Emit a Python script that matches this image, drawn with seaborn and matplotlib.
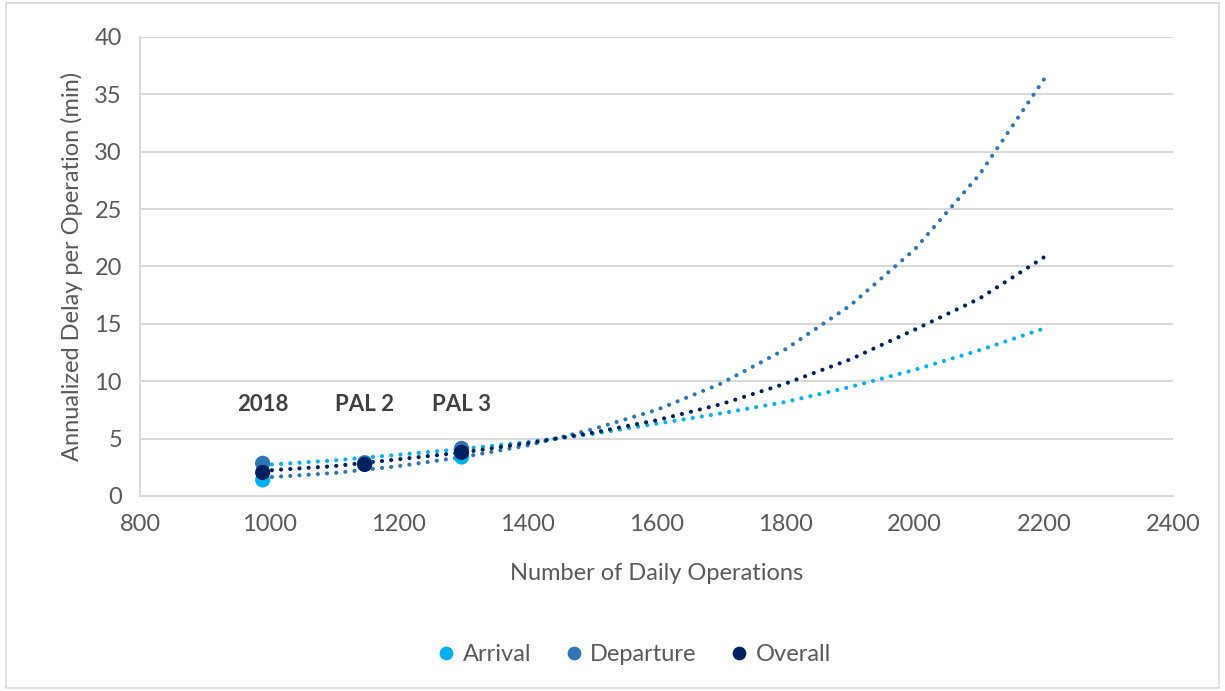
import numpy as np
import pandas as pd
import seaborn as sns
import matplotlib.pyplot as plt
from matplotlib.patches import Rectangle

# scenario points
scenarios = ["2018", "PAL 2", "PAL 3"]
ops = [990, 1148, 1298]
arrival_pts = [1.4, 2.8, 3.4]
departure_pts = [2.85, 2.9, 4.15]
overall_pts = [2.05, 2.75, 3.8]

# trend lines
trend_x = [990, 1100, 1200, 1300, 1400, 1500, 1600, 1700, 1800, 1900, 2000, 2100, 2200]
arrival_trend = [2.7, 3.1, 3.6, 4.1, 4.7, 5.4, 6.3, 7.2, 8.2, 9.5, 11.0, 12.7, 14.6]
departure_trend = [1.6, 2.0, 2.6, 3.4, 4.4, 5.8, 7.5, 9.8, 12.8, 16.6, 21.5, 28.0, 36.3]
overall_trend = [2.2, 2.6, 3.2, 3.8, 4.6, 5.5, 6.6, 8.0, 9.8, 11.9, 14.5, 17.2, 20.8]

series = ["Arrival", "Departure", "Overall"]
palette = {"Arrival": "#00B0F0", "Departure": "#2E75B6", "Overall": "#002060"}

GREY = "#595959"
FS = 17
sns.set_style("white")
plt.rcParams["font.family"] = ["Lato", "DejaVu Sans"]
plt.rcParams["text.color"] = GREY
plt.rcParams["xtick.color"] = GREY
plt.rcParams["ytick.color"] = GREY
plt.rcParams["axes.labelcolor"] = GREY

pts = pd.DataFrame({
    "ops": ops * 3,
    "delay": arrival_pts + departure_pts + overall_pts,
    "series": np.repeat(series, len(ops)),
})
trend = pd.DataFrame({
    "ops": trend_x * 3,
    "delay": arrival_trend + departure_trend + overall_trend,
    "series": np.repeat(series, len(trend_x)),
})

fig = plt.figure(figsize=(12.25, 6.91), dpi=100)
ax = fig.add_axes([0.1143, 0.2822, 0.8433, 0.6643])

sns.lineplot(data=trend, x="ops", y="delay", hue="series", palette=palette,
             hue_order=series, legend=False, ax=ax, lw=3.0,
             linestyle=(0, (0.01, 2.2)), dash_capstyle="round", zorder=3)
sns.scatterplot(data=pts, x="ops", y="delay", hue="series", palette=palette,
                hue_order=series, s=120, edgecolor="none", ax=ax, zorder=4)

for name, x in zip(scenarios, ops):
    ax.text(x, 8.0, name, ha="center", va="center", fontsize=FS - 1,
            fontweight="bold", color="#404040")

ax.set_xlim(800, 2400)
ax.set_ylim(0, 40)
ax.set_xticks(range(800, 2401, 200))
ax.set_yticks(range(0, 41, 5))
ax.grid(True, axis="y", color="#D9D9D9", lw=1.5)
ax.set_axisbelow(True)
for s in ["top", "right"]:
    ax.spines[s].set_visible(False)
for s in ["left", "bottom"]:
    ax.spines[s].set_color("#D9D9D9")
    ax.spines[s].set_linewidth(1.5)
ax.tick_params(axis="both", labelsize=FS, length=7, width=1.5, color="#D9D9D9", pad=6)
ax.set_xlabel("Number of Daily Operations", fontsize=FS, labelpad=20)
ax.set_ylabel("Annualized Delay per Operation (min)", fontsize=FS, labelpad=8)

handles, labels = ax.get_legend_handles_labels()
ax.legend(handles, labels, loc="center", bbox_to_anchor=(0.478, -0.345), ncol=3,
          frameon=False, fontsize=FS, handlelength=0.8, handletextpad=0.3,
          columnspacing=1.4, markerscale=0.9)

fig.patches.append(Rectangle((0.005, 0.005), 0.99, 0.99, transform=fig.transFigure,
                             fill=False, edgecolor="#D9D9D9", lw=1.2))

fig.savefig("out.png", dpi=100)
